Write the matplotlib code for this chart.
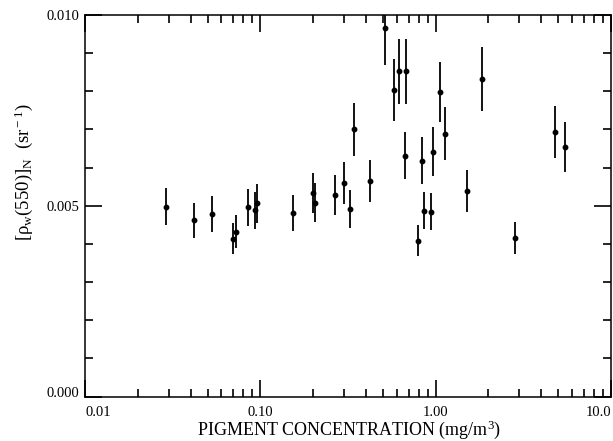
import numpy as np
import matplotlib
matplotlib.use('Agg')
import matplotlib.pyplot as plt
from matplotlib.ticker import FixedLocator, LogLocator, NullFormatter

plt.rcParams['font.family'] = ['Liberation Serif', 'DejaVu Serif']
plt.rcParams['mathtext.fontset'] = 'custom'
plt.rcParams['mathtext.rm'] = 'Liberation Serif'
plt.rcParams['mathtext.it'] = 'Liberation Serif:italic'

# pigment concentration (mg/m^3)
chl = [0.0290, 0.0420, 0.0530, 0.0702, 0.0724, 0.0847, 0.0929, 0.0954,
       0.153, 0.2007, 0.206, 0.267, 0.301, 0.326, 0.424,
       0.3435, 0.514, 0.581, 0.618, 0.678, 0.669, 0.836, 0.963, 1.059, 1.127,
       1.517, 1.848, 4.82, 5.50,
       0.791, 0.862, 0.942, 2.83]
# normalized water-leaving reflectance at 550 nm (x 1e-3)
rho = [4.98, 4.62, 4.79, 4.14, 4.32, 4.96, 4.88, 5.07,
       4.81, 5.34, 5.08, 5.29, 5.60, 4.92, 5.65,
       7.00, 9.66, 8.03, 8.52, 8.52, 6.31, 6.18, 6.42, 7.98, 6.89,
       5.40, 8.32, 6.93, 6.54,
       4.09, 4.87, 4.85, 4.16]
err = [0.49, 0.46, 0.47, 0.41, 0.43, 0.49, 0.48, 0.51,
       0.48, 0.52, 0.51, 0.52, 0.55, 0.49, 0.55,
       0.70, 0.97, 0.81, 0.85, 0.85, 0.62, 0.61, 0.65, 0.79, 0.69,
       0.55, 0.83, 0.69, 0.66,
       0.41, 0.48, 0.48, 0.41]

x = np.array(chl)
y = np.array(rho) * 1e-3
e = np.array(err) * 1e-3

fig = plt.figure(figsize=(6.13, 4.41), dpi=100)
ax = fig.add_axes([85 / 613, 1 - 396.6 / 441, 526 / 613, 381.6 / 441])

ax.errorbar(x, y, yerr=e, fmt='o', color='black', ms=3.2, elinewidth=1.3,
            capsize=0, clip_on=True)

ax.set_xscale('log')
ax.set_xlim(0.01, 10)
ax.set_ylim(0, 0.010)

ax.xaxis.set_major_locator(FixedLocator([0.01, 0.1, 1, 10]))
ax.xaxis.set_minor_locator(LogLocator(base=10, subs=np.arange(2, 10)))
ax.xaxis.set_minor_formatter(NullFormatter())
ax.set_xticklabels(['0.01', '0.10', '1.00', '10.0'])
ax.set_yticks([0.0, 0.005, 0.010])
ax.set_yticklabels(['0.000', '0.005', '0.010'])
ax.yaxis.set_minor_locator(FixedLocator(np.arange(0.001, 0.010, 0.001)))

ax.tick_params(which='both', direction='in', top=True, right=True,
               width=1.2, labelsize=10.5)
ax.tick_params(which='major', length=12)
ax.tick_params(which='minor', length=5.5)
ax.tick_params(axis='x', pad=7)
ax.tick_params(axis='y', pad=4)

xl = ax.get_xticklabels()
xl[0].set_ha('left')
xl[-1].set_ha('right')
yl = ax.get_yticklabels()
yl[0].set_va('baseline')

for s in ax.spines.values():
    s.set_linewidth(1.1)

fig.text(349 / 613, 6 / 441, 'PIGMENT CONCENTRATION (mg/m$^{3}$)',
         ha='center', va='baseline', fontsize=13)
fig.text(24 / 613, 1 - 172 / 441,
         '[ρ$_{\\rm w}$(550)]$_{\\rm N}$  (sr$^{\\rm -1}$)',
         ha='center', va='center', rotation=90, fontsize=13.5)

fig.savefig('out.png', dpi=100)
